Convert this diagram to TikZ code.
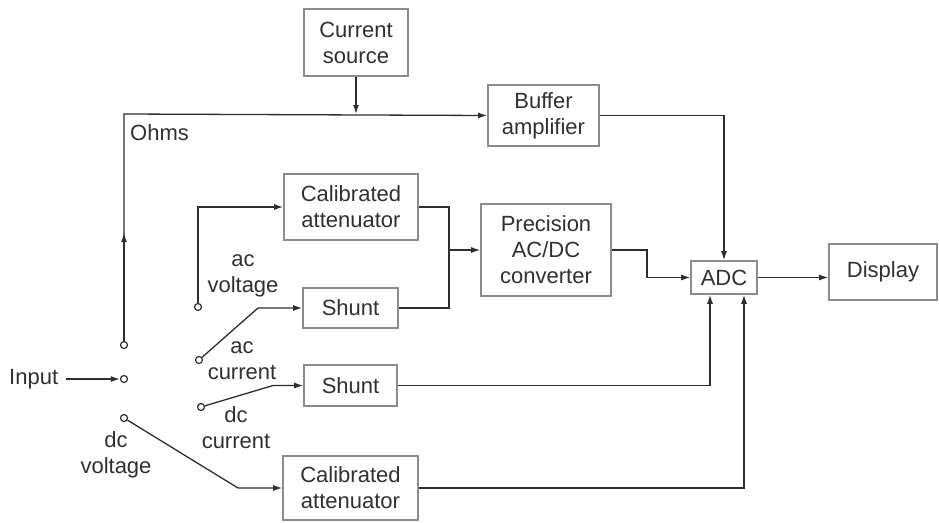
\documentclass[tikz,border=0pt]{standalone}
\usepackage{fontspec}
\setmainfont{Liberation Sans}
\usetikzlibrary{arrows.meta, positioning, calc}
\definecolor{boxGray}{HTML}{8C8C8C}
\definecolor{wireDark}{HTML}{2E2E2E}
\definecolor{textDark}{HTML}{303030}

\begin{document}
\begin{tikzpicture}[x=1pt, y=-1pt,
    blk/.style={rectangle, draw=boxGray, line width=1.6pt, align=center,
                inner sep=2pt, text=textDark,
                font=\fontsize{22}{26}\selectfont},
    lbl/.style={align=center, inner sep=0pt, text=textDark,
                font=\fontsize{22}{26}\selectfont},
    contact/.style={circle, draw=wireDark, line width=1.2pt, inner sep=0pt,
                    minimum size=7pt},
    wire/.style={line width=1.3pt, wireDark},
    arr/.style={wire, -{Latex[length=9pt, width=6pt]}},
  ]
    \useasboundingbox (0,0) rectangle (939,522);

    \node[blk, minimum width=104pt, minimum height=67pt] (cursrc) at (356,42.5)
      {Current\\source};
    \node[blk, minimum width=111pt, minimum height=61pt] (buffer) at (543.5,115.5)
      {Buffer\\amplifier};
    \node[blk, minimum width=134pt, minimum height=66pt] (calatt1) at (351,207)
      {Calibrated\\attenuator};
    \node[blk, minimum width=95pt, minimum height=40pt] (shunt1) at (350.5,308)
      {Shunt};
    \node[blk, minimum width=130pt, minimum height=92pt] (precision) at (546,250)
      {Precision\\AC/DC\\converter};
    \node[blk, minimum width=66pt, minimum height=33pt] (adc) at (724,277.5)
      {ADC};
    \node[blk, minimum width=108pt, minimum height=56pt] (display) at (883,272)
      {Display};
    \node[blk, minimum width=93pt, minimum height=41pt] (shunt2) at (350.5,385.5)
      {Shunt};
    \node[blk, minimum width=135pt, minimum height=64pt] (calatt2) at (350.5,488)
      {Calibrated\\attenuator};

    \node[contact] (ohms) at (124,345) {};
    \node[contact] (input) at (124,379) {};
    \node[contact] (dcv) at (124,418) {};
    \node[contact] (acv) at (198,307) {};
    \node[contact] (aci) at (199,360) {};
    \node[contact] (dci) at (201,407) {};

    \node[lbl, anchor=west] (inlbl) at (9,379) {Input};
    \node[lbl, anchor=west] (ohmslbl) at (130,133) {Ohms};
    \node[lbl] (acvlbl) at (243,275.5) {ac\\voltage};
    \node[lbl] (acilbl) at (242,360.5) {ac\\current};
    \node[lbl] (dcilbl) at (236,427.5) {dc\\current};
    \node[lbl] (dcvlbl) at (116,454.5) {dc\\voltage};

    \coordinate (ohmsup) at (124,233);
    \coordinate (ohmstop) at (124,114);
    \coordinate (acibend) at (258,308);
    \coordinate (dcibend) at (273,385.5);
    \coordinate (dcvbend) at (238,488);
    \coordinate (sumtop) at (449,207);
    \coordinate (sumbot) at (449,308);
    \coordinate (pcbend) at (647,250);
    \coordinate (s2bend) at (710,385.5);
    \coordinate (c2bend) at (744,488);

    \draw[arr, shorten <=8pt] (inlbl) -- (input);
    \draw[arr] (ohms) -- (ohmstop) -- (buffer.west);
    \draw[arr] (ohms) -- (ohmsup);
    \draw[arr] (cursrc) -- (cursrc.south |- ohmstop);
    \draw[arr] (acv) |- (calatt1.west);
    \draw[arr] (aci) -- (acibend) -- (shunt1.west);
    \draw[arr] (dci) -- (dcibend) -- (shunt2.west);
    \draw[arr] (dcv) -- (dcvbend) -- (calatt2.west);
    \draw[wire] (calatt1.east) -- (sumtop) -- (sumbot) -- (shunt1.east);
    \draw[arr] (sumtop |- precision.west) -- (precision.west);
    \draw[arr] (precision.east) -- (pcbend) |- (adc.west);
    \draw[arr] (adc.east) -- (adc.east -| display.west);
    \draw[arr] (buffer.east) -| (adc.north);
    \draw[arr] (shunt2.east) -- (s2bend) -- (s2bend |- adc.south);
    \draw[arr] (calatt2.east) -- (c2bend) -- (c2bend |- adc.south);
  \end{tikzpicture}
\end{document}
